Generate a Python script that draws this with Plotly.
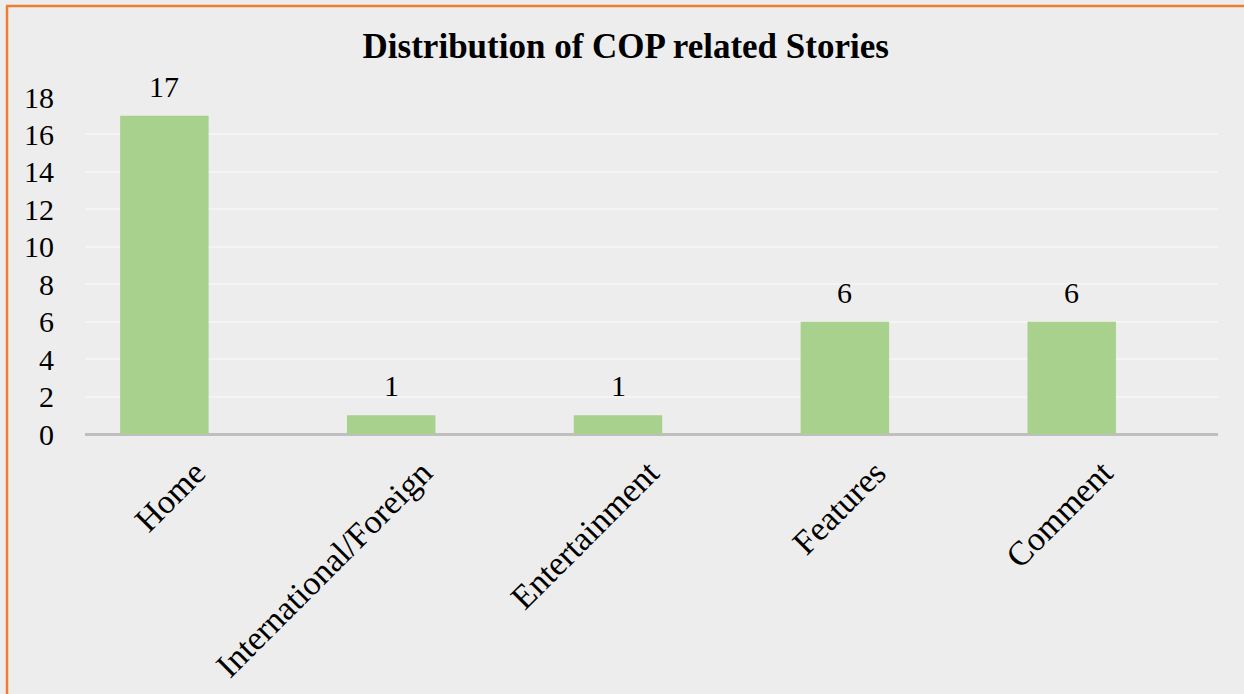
import plotly.graph_objects as go

# Story counts per section
categories = ["Home", "International/Foreign", "Entertainment", "Features", "Comment"]
stories = [17, 1, 1, 6, 6]
y_ticks = [0, 2, 4, 6, 8, 10, 12, 14, 16, 18]

W, H = 1244, 694
L, R, T, B = 85, 26, 97, 260
BG = "#EDEDED"
SERIF = "Liberation Serif, Times New Roman, serif"

fig = go.Figure()
fig.add_trace(go.Bar(
    x=list(range(len(categories))),
    y=stories,
    marker=dict(color="#A9D18E", line=dict(width=0)),
    width=0.39,
    cliponaxis=False,
    hoverinfo="skip",
))

# value labels above bars
for i, v in enumerate(stories):
    fig.add_annotation(
        x=i, y=v, text=str(v), showarrow=False,
        yanchor="bottom", yshift=11,
        font=dict(family=SERIF, size=30, color="#000000"),
    )

# orange frame on left and top edges
pw = W - L - R
ph = H - T - B
def px_x(p):
    return (p - L) / pw
def px_y(p):
    return 1 - (p - T) / ph

fig.add_shape(type="line", xref="paper", yref="paper",
              x0=px_x(7), x1=px_x(7), y0=px_y(6), y1=px_y(H + 5),
              line=dict(color="#ED7D31", width=2.5))
fig.add_shape(type="line", xref="paper", yref="paper",
              x0=px_x(6), x1=px_x(W + 5), y0=px_y(6), y1=px_y(6),
              line=dict(color="#ED7D31", width=2.5))

fig.update_layout(
    width=W, height=H,
    margin=dict(l=L, r=R, t=T, b=B, pad=0),
    paper_bgcolor=BG, plot_bgcolor=BG,
    showlegend=False,
    title=dict(
        text="<b>Distribution of COP related Stories</b>",
        x=0.503, xref="container", xanchor="center",
        y=1 - 46 / H, yref="container", yanchor="middle",
        font=dict(family=SERIF, size=35, color="#000000"),
        automargin=False,
    ),
    bargap=0.6,
    xaxis=dict(
        range=[-0.35, 4.645],
        tickmode="array",
        tickvals=list(range(len(categories))),
        ticktext=categories,
        tickangle=-45,
        tickfont=dict(family=SERIF, size=34, color="#000000"),
        showgrid=False, zeroline=False,
        showline=False,
        ticks="",
        ticklabelshift=31,
        ticklabelstandoff=11,
        automargin=False,
    ),
    yaxis=dict(
        range=[0, 18],
        tickmode="array",
        tickvals=y_ticks,
        tickfont=dict(family=SERIF, size=30, color="#000000"),
        showgrid=True, gridcolor="#F4F4F4", gridwidth=1.5,
        zeroline=True, zerolinecolor="#BFBFBF", zerolinewidth=2.5,
        showline=False, ticks="", ticklabelstandoff=30,
        automargin=False,
    ),
)

fig.write_html("out.html")
